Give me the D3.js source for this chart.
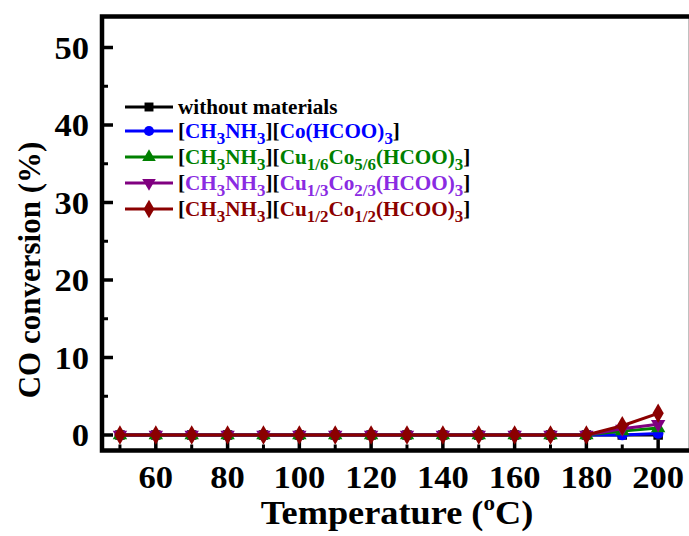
<!DOCTYPE html>
<html><head><meta charset="utf-8">
<script src="https://cdn.jsdelivr.net/npm/d3@7"></script>
<style>
html,body{margin:0;padding:0;background:#fff;}
svg{display:block;}
text{font-family:"Liberation Serif","Times New Roman",serif;font-weight:bold;}
</style></head>
<body>
<svg id="chart" width="689" height="536"></svg>
<script>
// ---- data ----
const temperatures = [50,60,70,80,90,100,110,120,130,140,150,160,170,180,190,200];
const withoutMaterials = [0,0,0,0,0,0,0,0,0,0,0,0,0,0,0,0];
const coFormate       = [0,0,0,0,0,0,0,0,0,0,0,0,0,0,0.0,0.2];
const cu16Co56        = [0,0,0,0,0,0,0,0,0,0,0,0,0,0,0.5,0.9];
const cu13Co23        = [0,0,0,0,0,0,0,0,0,0,0,0,0,0,0.8,1.4];
const cu12Co12        = [0,0,0,0,0,0,0,0,0,0,0,0,0,0,1.2,2.8];
const xTickLabels = [60,80,100,120,140,160,180,200];
const yTickLabels = [0,10,20,30,40,50];

const series = [
  {name:"without materials", values:withoutMaterials, color:"#000000", text:"#000000", symbol:d3.symbolSquare, rot:0},
  {name:"Co", values:coFormate, color:"#0000ff", text:"#0000ff", symbol:d3.symbolCircle, rot:0},
  {name:"Cu1/6", values:cu16Co56, color:"#008000", text:"#008000", symbol:d3.symbolTriangle, rot:0},
  {name:"Cu1/3", values:cu13Co23, color:"#800080", text:"#8a2be2", symbol:d3.symbolTriangle, rot:180},
  {name:"Cu1/2", values:cu12Co12, color:"#8b0000", text:"#8b0000", symbol:d3.symbolDiamond, rot:0}
];
// legend text parts: [text, isSub, colored]
const legendParts = [
  [["without materials",0,1]],
  [["[",0,0],["CH",0,1],["3",1,1],["NH",0,1],["3",1,1],["][",0,0],["Co(HCOO)",0,1],["3",1,1],["]",0,0]],
  [["[",0,0],["CH",0,1],["3",1,1],["NH",0,1],["3",1,1],["][",0,0],["Cu",0,1],["1/6",1,1],["Co",0,1],["5/6",1,1],["(HCOO)",0,1],["3",1,1],["]",0,0]],
  [["[",0,0],["CH",0,1],["3",1,1],["NH",0,1],["3",1,1],["][",0,0],["Cu",0,1],["1/3",1,1],["Co",0,1],["2/3",1,1],["(HCOO)",0,1],["3",1,1],["]",0,0]],
  [["[",0,0],["CH",0,1],["3",1,1],["NH",0,1],["3",1,1],["][",0,0],["Cu",0,1],["1/2",1,1],["Co",0,1],["1/2",1,1],["(HCOO)",0,1],["3",1,1],["]",0,0]]
];

const svg = d3.select("#chart");
const x = d3.scaleLinear().domain([45, 208.6]).range([102, 689]);
const y = d3.scaleLinear().domain([-2, 54]).range([450.5, 16.5]);

// ticks (inward)
const g = svg.append("g");
const majorX = d3.range(60, 201, 20), minorX = d3.range(50, 201, 20);
const majorY = d3.range(0, 51, 10), minorY = d3.range(5, 51, 10);
g.selectAll(".mx").data(majorX).join("line")
  .attr("x1", d=>x(d)).attr("x2", d=>x(d)).attr("y1", y(-2)).attr("y2", y(-2)-11)
  .attr("stroke","#000").attr("stroke-width",3.5);
g.selectAll(".nx").data(minorX).join("line")
  .attr("x1", d=>x(d)).attr("x2", d=>x(d)).attr("y1", y(-2)).attr("y2", y(-2)-6)
  .attr("stroke","#000").attr("stroke-width",3);
g.selectAll(".my").data(majorY).join("line")
  .attr("x1", x(45)).attr("x2", x(45)+11).attr("y1", d=>y(d)).attr("y2", d=>y(d))
  .attr("stroke","#000").attr("stroke-width",3.5);
g.selectAll(".ny").data(minorY).join("line")
  .attr("x1", x(45)).attr("x2", x(45)+6).attr("y1", d=>y(d)).attr("y2", d=>y(d))
  .attr("stroke","#000").attr("stroke-width",3);

// frame
svg.append("rect").attr("x", x(45)).attr("y", y(54)).attr("width", x(208.6)-x(45)+2).attr("height", y(-2)-y(54))
  .attr("fill","none").attr("stroke","#000").attr("stroke-width",4.5);

// tick labels (slightly widened like the reference)
svg.selectAll(".xl").data(xTickLabels).join("text")
  .attr("transform", d=>`translate(${x(d)},488) scale(1.08,1)`).attr("text-anchor","middle")
  .attr("font-size",32).text(d=>d);
svg.selectAll(".yl").data(yTickLabels).join("text")
  .attr("transform", d=>`translate(89,${y(d)+11}) scale(1.08,1)`).attr("text-anchor","end")
  .attr("font-size",32).text(d=>d);

// axis titles
const xt = svg.append("text").attr("transform","translate(397,524) scale(1.1,1)").attr("text-anchor","middle").attr("font-size",33);
xt.append("tspan").text("Temperature (");
xt.append("tspan").attr("font-size",21).attr("dy",-14).text("o");
xt.append("tspan").attr("dy",14).text("C)");
svg.append("text").attr("transform","translate(40,270) rotate(-90)").attr("text-anchor","middle")
  .attr("font-size",31).text("CO conversion (%)");

// series
const line = d3.line().x((d,i)=>x(temperatures[i])).y(d=>y(d));
series.forEach(s=>{
  svg.append("path").datum(s.values).attr("d", line).attr("fill","none")
    .attr("stroke", s.color).attr("stroke-width",3);
  svg.selectAll(null).data(s.values).join("path")
    .attr("d", d3.symbol().type(s.symbol).size(s.symbol===d3.symbolDiamond?110:90))
    .attr("transform",(d,i)=>`translate(${x(temperatures[i])},${y(d)}) rotate(${s.rot})`)
    .attr("fill", s.color);
});

// legend
const legY = [107, 131, 157, 183, 209];
series.forEach((s,k)=>{
  const ly = legY[k];
  svg.append("line").attr("x1",125).attr("x2",173).attr("y1",ly).attr("y2",ly)
    .attr("stroke", s.color).attr("stroke-width",3);
  svg.append("path").attr("d", d3.symbol().type(s.symbol).size(s.symbol===d3.symbolDiamond?100:80)())
    .attr("transform",`translate(149,${ly}) rotate(${s.rot})`).attr("fill", s.color);
  const t = svg.append("text").attr("transform",`translate(178,${ly+7}) scale(1.06,1)`).attr("font-size",20);
  let sub = false;
  legendParts[k].forEach(p=>{
    const ts = t.append("tspan").text(p[0]).attr("fill", p[2] ? s.text : "#000");
    if (p[1] && !sub) { ts.attr("dy",6).attr("font-size",16); sub = true; }
    else if (p[1]) { ts.attr("font-size",16); }
    else if (!p[1] && sub) { ts.attr("dy",-6); sub = false; }
  });
});
</script>
</body></html>
